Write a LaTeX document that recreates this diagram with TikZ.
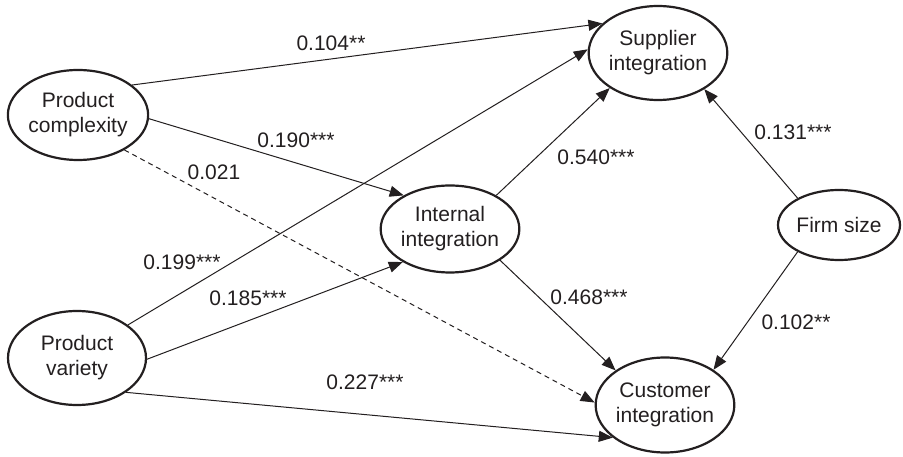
\documentclass[tikz,border=0pt]{standalone}
\usepackage{fontspec}
\setmainfont{Liberation Sans}
\usetikzlibrary{arrows.meta,shapes.geometric}
\definecolor{ink}{HTML}{231F20}
\begin{document}
\begin{tikzpicture}[x=1pt,y=-1pt,
  var/.style={ellipse,draw=ink,line width=2.2pt,text=ink,align=center,inner sep=0pt,font=\fontsize{21}{25}\selectfont},
  conn/.style={draw=ink,line width=1pt,-{Triangle[length=14pt,width=11pt]}},
  dashconn/.style={conn,dash pattern=on 5pt off 4pt},
  coef/.style={text=ink,inner sep=0pt,font=\fontsize{21}{25}\selectfont}]
\fill[white] (0,0) rectangle (903,457);
\useasboundingbox (0,0) rectangle (903,457);
\node[var,minimum width=139pt,minimum height=90pt] (pc) at (78,115) {Product\\complexity};
\node[var,minimum width=138pt,minimum height=94pt] (pv) at (77,358) {Product\\variety};
\node[var,minimum width=137pt,minimum height=87pt] (ii) at (450,229) {Internal\\integration};
\node[var,minimum width=138pt,minimum height=94pt] (si) at (658,53) {Supplier\\integration};
\node[var,minimum width=138pt,minimum height=95pt] (ci) at (665,405) {Customer\\integration};
\node[var,minimum width=122pt,minimum height=70pt] (fs) at (839,225) {Firm size};
\draw[conn] (pc.29) -- (si.152);
\draw[conn] (pc.-3) -- (ii.144);
\draw[dashconn] (pc.-37) -- (ci.178);
\draw[conn] (pv.33) -- (si.177);
\draw[conn] (pv.-1) -- (ii.215);
\draw[conn] (pv.-35) -- (ci.212);
\draw[conn] (ii.36) -- (si.216);
\draw[conn] (ii.-32) -- (ci.145);
\draw[conn] (fs.147) -- (si.-38);
\draw[conn] (fs.213) -- (ci.36);
\node[coef] (l1) at (331,43) {0.104**};
\node[coef] (l2) at (296,140) {0.190***};
\node[coef] (l3) at (214,172) {0.021};
\node[coef] (l4) at (182,262) {0.199***};
\node[coef] (l5) at (248,298) {0.185***};
\node[coef] (l6) at (365,382) {0.227***};
\node[coef] (l7) at (596,157) {0.540***};
\node[coef] (l8) at (589,297) {0.468***};
\node[coef] (l9) at (793,132) {0.131***};
\node[coef] (l10) at (796,322) {0.102**};
\end{tikzpicture}
\end{document}
